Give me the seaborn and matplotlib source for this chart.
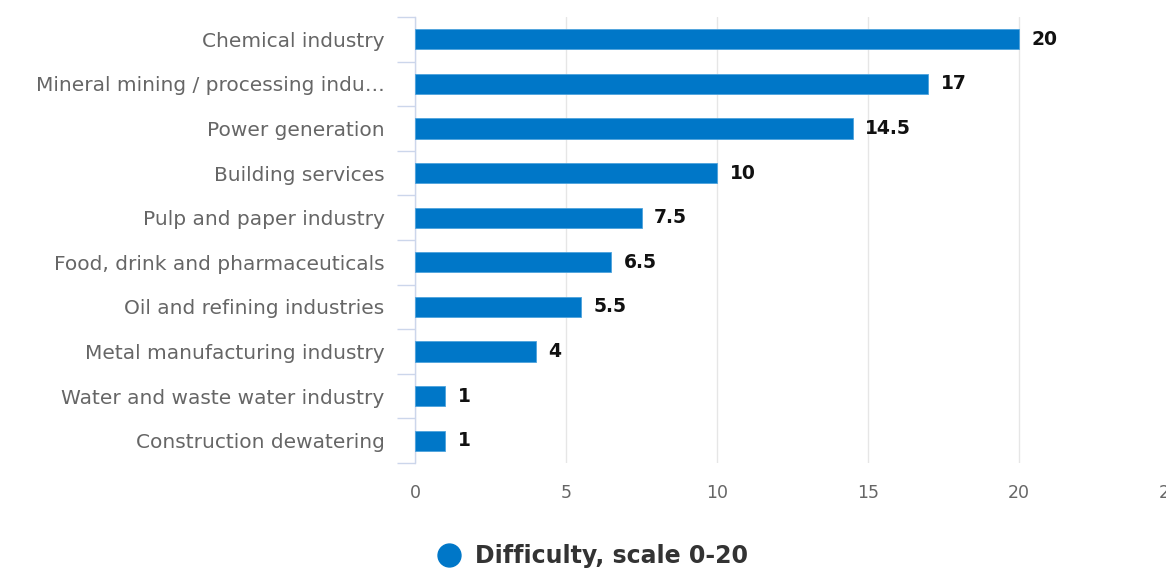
import matplotlib
matplotlib.use("Agg")
import matplotlib.pyplot as plt
import seaborn as sns
import pandas as pd
from matplotlib.lines import Line2D
from matplotlib.ticker import FixedLocator

categories = [
    "Chemical industry",
    "Mineral mining / processing indu…",
    "Power generation",
    "Building services",
    "Pulp and paper industry",
    "Food, drink and pharmaceuticals",
    "Oil and refining industries",
    "Metal manufacturing industry",
    "Water and waste water industry",
    "Construction dewatering",
]
values = [20, 17, 14.5, 10, 7.5, 6.5, 5.5, 4, 1, 1]
value_labels = ["20", "17", "14.5", "10", "7.5", "6.5", "5.5", "4", "1", "1"]
x_ticks = [0, 5, 10, 15, 20, 25]
series_name = "Difficulty, scale 0-20"

df = pd.DataFrame({"category": categories, "value": values})

sns.set_theme(style="white")
plt.rcParams["font.family"] = ["DejaVu Sans"]

BAR = "#0077c8"
fig = plt.figure(figsize=(11.66, 5.70), dpi=100)
ax = fig.add_axes([415/1166, 1-463/570, (1170-415)/1166, (463-17)/570])

sns.barplot(data=df, x="value", y="category", orient="h", color=BAR,
            width=0.45, saturation=1, edgecolor="#4da3dc", linewidth=0.6, ax=ax, zorder=3)

ax.set_xlim(0, 25)
ax.set_ylim(9.5, -0.5)
ax.set_xticks(x_ticks)
ax.set_xticklabels([str(t) for t in x_ticks])
ax.grid(axis="x", color="#e6e6e6", linewidth=1, zorder=0)
ax.grid(axis="y", visible=False)
ax.set_axisbelow(True)
for s in ["top", "right", "bottom"]:
    ax.spines[s].set_visible(False)
ax.spines["left"].set_color("#ccd6eb")
ax.spines["left"].set_linewidth(1)
ax.set_xlabel("")
ax.set_ylabel("")

ax.tick_params(axis="x", length=0, pad=15, labelsize=12.5, labelcolor="#666666")
ax.tick_params(axis="y", which="major", left=False, length=0, pad=22, labelsize=14.5, labelcolor="#666666")
ax.yaxis.set_minor_locator(FixedLocator([i - 0.5 for i in range(len(categories) + 1)]))
ax.tick_params(axis="y", which="minor", left=True, length=13, width=1, color="#ccd6eb")

for i, (v, lab) in enumerate(zip(values, value_labels)):
    ax.annotate(lab, xy=(v, i), xytext=(9, 0), textcoords="offset points",
                ha="left", va="center", fontsize=13.5, fontweight="bold", color="#111111")

handle = Line2D([], [], marker="o", linestyle="", markersize=16.5, color=BAR)
fig.legend([handle], [series_name], loc="center", bbox_to_anchor=(593/1166, 1-556/570),
           frameon=False, prop={"size": 17, "weight": "bold"}, labelcolor="#333333",
           handletextpad=0.6, handlelength=1.0)

fig.savefig("out.png", dpi=100)
